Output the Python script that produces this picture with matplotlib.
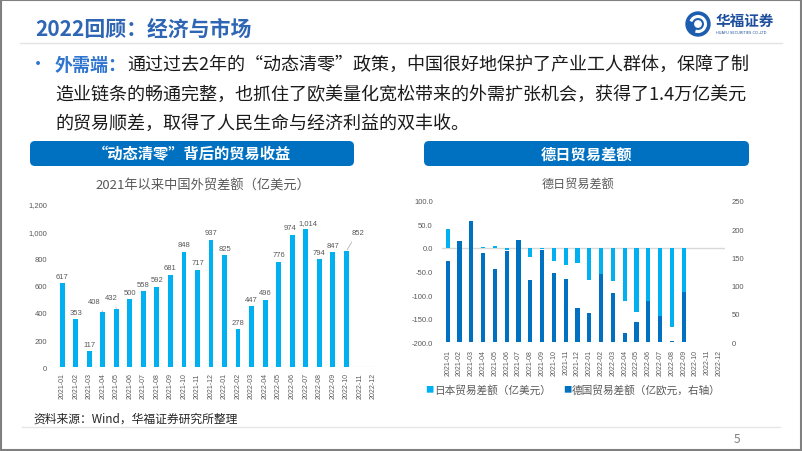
import matplotlib
matplotlib.use("Agg")
import matplotlib.pyplot as plt
from matplotlib.patches import FancyBboxPatch, Rectangle, Circle, Arc

plt.rcParams['font.family'] = ['Noto Sans CJK SC', 'DejaVu Sans']

W, H = 802, 452

months = ['2021-01', '2021-02', '2021-03', '2021-04', '2021-05', '2021-06',
          '2021-07', '2021-08', '2021-09', '2021-10', '2021-11', '2021-12',
          '2022-01', '2022-02', '2022-03', '2022-04', '2022-05', '2022-06',
          '2022-07', '2022-08', '2022-09', '2022-10', '2022-11', '2022-12']

# 中国外贸差额（亿美元），2021-01 ~ 2022-10
china_balance = [617, 353, 117, 408, 432, 500, 558, 592, 681, 848, 717, 937,
                 825, 278, 447, 496, 776, 974, 1014, 794, 847, 852]

# 日本贸易差额（亿美元），2021-01 ~ 2022-09
japan_balance = [40, 10, 50, 2, 3, -4, 4, -19, -2, -28, -37, -33,
                 -67, -58, -71, -112, -136, -120, -145, -168, -150]
# 德国贸易差额（亿欧元，右轴）
germany_balance = [144, 178, 215, 158, 129, 162, 180, 110, 163, 123, 111, 61,
                   52, 121, 87, 16, 36, 73, 47, 3, 88]

LIGHT = '#00B0F0'
DARK = '#0070C0'
GREY = '#595959'
NUM = 'Liberation Sans'

fig = plt.figure(figsize=(W / 100, H / 100), dpi=100)

# page layer in pixel coordinates
bg = fig.add_axes([0, 0, 1, 1])
bg.set_xlim(0, W)
bg.set_ylim(H, 0)
bg.axis('off')


def box(ax_px):
    l, t, r, b = ax_px
    return [l / W, 1 - b / H, (r - l) / W, (b - t) / H]


# header
bg.text(35, 29, '2022回顾：经济与市场', fontsize=15, fontweight='bold',
        color='#2E66B3', va='center', ha='left')
bg.plot([20, 782], [43.5, 43.5], color='#E3E3E3', lw=1)

# logo
bg.add_patch(Circle((698, 25), 12, color='#1D5DB0'))
bg.add_patch(Arc((698, 25), 15, 15, theta1=200, theta2=110, color='white', lw=2.2))
bg.add_patch(Circle((698, 25), 3.2, color='white'))
bg.text(716, 21, '华福证券', fontsize=10.5, fontweight='bold', color='#1D4F9C',
        va='center', ha='left')
bg.text(716, 33, 'HUAFU SECURITIES CO.,LTD', fontsize=2.6, color='#1D4F9C',
        va='center', ha='left', family='DejaVu Sans')

# bullet text
bg.text(38, 65, '•', fontsize=13, color='#2F75CF', va='center', ha='center')
t1 = bg.text(55, 65, '外需端：', fontsize=13, fontweight='bold', color='#2F75CF',
             va='center', ha='left')
bg.annotate('通过过去2年的“动态清零”政策，中国很好地保护了产业工人群体，保障了制',
            xy=(1, 0.5), xycoords=t1, va='center', ha='left', fontsize=13,
            color='#1A1A1A')
bg.text(55, 95, '造业链条的畅通完整，也抓住了欧美量化宽松带来的外需扩张机会，获得了1.4万亿美元',
        fontsize=13, color='#1A1A1A', va='center', ha='left')
bg.text(55, 124, '的贸易顺差，取得了人民生命与经济利益的双丰收。',
        fontsize=13, color='#1A1A1A', va='center', ha='left')

# banners
for x0, x1, label in [(30, 354, '“动态清零”背后的贸易收益'), (424, 749, '德日贸易差额')]:
    bg.add_patch(FancyBboxPatch((x0, 142), x1 - x0, 25,
                                boxstyle='round,pad=0,rounding_size=5',
                                fc=DARK, ec='none'))
    bg.text((x0 + x1) / 2, 154.5, label, fontsize=11, fontweight='bold',
            color='white', va='center', ha='center')

# chart titles
bg.text(203, 186, '2021年以来中国外贸差额（亿美元）', fontsize=9.5, color=GREY,
        va='center', ha='center')
bg.text(578, 184, '德日贸易差额', fontsize=8.7, color=GREY, va='center', ha='center')

# ---------- left chart ----------
ax = fig.add_axes(box((55.5, 205, 380, 368.3)))
ax.set_facecolor('none')
x = list(range(len(china_balance)))
ax.bar(x, china_balance, width=0.36, color=LIGHT, zorder=2)
ax.axhline(0, color='#D9D9D9', lw=0.8, zorder=1)
ax.set_xlim(-0.5, len(months) - 0.5)
ax.set_ylim(0, 1200)
ax.set_yticks(range(0, 1201, 200))
ax.set_yticklabels([f'{v:,}' for v in range(0, 1201, 200)], family=NUM,
                   fontsize=5.5, color=GREY)
ax.set_xticks(range(len(months)))
ax.set_xticklabels(months, rotation=90, family=NUM, fontsize=5, color=GREY)
ax.tick_params(length=0)
ax.tick_params(axis='y', pad=6)
ax.tick_params(axis='x', pad=3.5)
for s in ax.spines.values():
    s.set_visible(False)

special = {3: (2.35, 485), 4: (3.66, 515), 21: (21.85, 993)}
for i, v in enumerate(china_balance):
    if i in special:
        ax.annotate(f'{v:,}', xy=(i, v), xytext=special[i], ha='center',
                    va='center', fontsize=5.5, family=NUM, color=GREY,
                    arrowprops=dict(arrowstyle='-', color='#A6A6A6', lw=0.5,
                                    shrinkA=3, shrinkB=1))
    else:
        dx = -1.5 if i == 17 else (1.5 if i == 18 else 0)
        ax.annotate(f'{v:,}', xy=(i, v), xytext=(dx, 2.5), textcoords='offset points',
                    ha='center', va='bottom', fontsize=5.5, family=NUM, color=GREY)

# ---------- right chart ----------
axr = fig.add_axes(box((441.8, 201.7, 725, 343.3)))
axr.set_facecolor('none')
xr = list(range(len(japan_balance)))
axr.bar(xr, japan_balance, width=0.36, color=LIGHT, zorder=2)
axr.axhline(0, color='#D9D9D9', lw=1, zorder=1)
axr.set_xlim(-0.5, len(months) - 0.5)
axr.set_ylim(-200, 100)
axr.set_yticks(range(-200, 101, 50))
axr.set_yticklabels([f'{v:.1f}' for v in range(-200, 101, 50)], family=NUM,
                    fontsize=5.5, color=GREY)
axr.set_xticks(range(len(months)))
axr.set_xticklabels(months, rotation=90, family=NUM, fontsize=5, color=GREY)
axr.tick_params(length=0)
axr.tick_params(axis='y', pad=6.5)
axr.tick_params(axis='x', pad=4.8)
for s in axr.spines.values():
    s.set_visible(False)

axr2 = axr.twinx()
axr2.bar(xr, germany_balance, width=0.36, color=DARK, zorder=3)
axr2.set_ylim(0, 250)
axr2.set_yticks(range(0, 251, 50))
axr2.set_yticklabels([str(v) for v in range(0, 251, 50)], family=NUM,
                     fontsize=5.5, color=GREY)
axr2.tick_params(length=0, pad=4.8)
for s in axr2.spines.values():
    s.set_visible(False)

# legend
bg.text(429, 390, '■', fontsize=6, color=LIGHT, va='center', ha='center')
bg.text(434, 390, '日本贸易差额（亿美元）', fontsize=7.7, color=GREY, va='center', ha='left')
bg.text(567, 390, '■', fontsize=6, color=DARK, va='center', ha='center')
bg.text(572, 390, '德国贸易差额（亿欧元，右轴）', fontsize=7.7, color=GREY,
        va='center', ha='left')

# footer
bg.text(33, 419, '资料来源：Wind，华福证券研究所整理', fontsize=8.5, color='#262626',
        va='center', ha='left', fontstyle='italic')
bg.plot([22, 780], [428, 428], color='#E6E6E6', lw=1)
bg.text(737, 440, '5', fontsize=8.5, color='#7F7F7F', va='center', ha='center')
bg.add_patch(Rectangle((0.5, 0.5), W - 1.5, H - 1.5, fill=False, ec='#808080', lw=1.5))

fig.savefig('out.png', dpi=100)
